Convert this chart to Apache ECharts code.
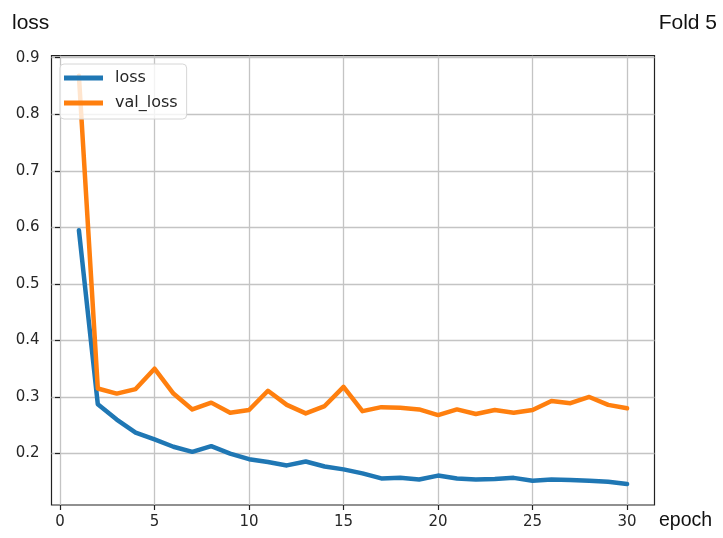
<!DOCTYPE html>
<html>
<head>
<meta charset="utf-8">
<script src="https://cdn.jsdelivr.net/npm/echarts@6/dist/echarts.min.js"></script>
<style>html,body{margin:0;padding:0;background:#fff}#c{width:723px;height:538px}</style>
</head>
<body>
<div id="c"></div>
<script>
const epochs = [1,2,3,4,5,6,7,8,9,10,11,12,13,14,15,16,17,18,19,20,21,22,23,24,25,26,27,28,29,30];
const loss = [0.595,0.287,0.260,0.237,0.225,0.212,0.203,0.213,0.200,0.190,0.185,0.179,0.186,0.177,0.172,0.165,0.156,0.157,0.154,0.161,0.156,0.154,0.155,0.157,0.152,0.154,0.153,0.152,0.150,0.146];
const valLoss = [0.868,0.315,0.306,0.314,0.350,0.306,0.278,0.290,0.272,0.277,0.311,0.286,0.271,0.284,0.318,0.275,0.282,0.281,0.278,0.268,0.278,0.270,0.277,0.272,0.277,0.293,0.289,0.300,0.286,0.280];
const xTicks = [0,5,10,15,20,25,30];
const yTicks = [0.2,0.3,0.4,0.5,0.6,0.7,0.8,0.9];

const chart = echarts.init(document.getElementById('c'), null, {renderer:'canvas'});
const tickFont = {fontFamily:'DejaVu Sans', fontSize:15, color:'#262626'};
const titleFont = {fontFamily:'Liberation Sans', fontSize:21, fontWeight:'normal', color:'#111'};
chart.setOption({
  animation:false,
  backgroundColor:'#fff',
  title:[
    {text:'loss', left:12, top:13, padding:0, textStyle:titleFont},
    {text:'Fold 5', right:6, top:13, padding:0, textStyle:titleFont},
    {text:'epoch', left:659, top:511, padding:0, textStyle:{...titleFont, fontSize:19.5}}
  ],
  grid:{left:51.5, right:68.5, top:55.7, bottom:33, show:true, borderColor:'#222', borderWidth:1.2, backgroundColor:'transparent', containLabel:false},
  legend:{
    orient:'vertical', left:60, top:64,
    data:['loss','val_loss'],
    icon:'rect', itemWidth:39, itemHeight:5, itemGap:9,
    textStyle:{fontFamily:'DejaVu Sans', fontSize:16, color:'#262626', padding:[0,0,0,7]},
    backgroundColor:'rgba(255,255,255,0.8)', borderColor:'#d6d6d6', borderWidth:1, borderRadius:4,
    padding:[6,9,8,4]
  },
  xAxis:{
    type:'value', min:-0.45, max:31.45,
    axisLine:{show:false},
    axisTick:{show:true, length:5, customValues:xTicks, lineStyle:{color:'#222', width:1.2}},
    axisLabel:{customValues:xTicks, margin:10, ...tickFont},
    splitLine:{show:true, lineStyle:{color:'#c4c4c4', width:1.3}}
  },
  yAxis:{
    type:'value', min:0.109, max:0.9035,
    axisLine:{show:false},
    axisTick:{show:true, length:5, customValues:yTicks, lineStyle:{color:'#222', width:1.2}},
    axisLabel:{customValues:yTicks, margin:12, formatter:v=>v.toFixed(1), ...tickFont},
    splitLine:{show:true, lineStyle:{color:'#c4c4c4', width:1.3}}
  },
  series:[
    {name:'loss', type:'line', data:epochs.map((e,i)=>[e,loss[i]]), symbol:'none', color:'#1f77b4', lineStyle:{width:4.5, color:'#1f77b4', join:'round', cap:'round'}},
    {name:'val_loss', type:'line', data:epochs.map((e,i)=>[e,valLoss[i]]), symbol:'none', color:'#ff7f0e', lineStyle:{width:4.5, color:'#ff7f0e', join:'round', cap:'round'}}
  ]
});
</script>
</body>
</html>
